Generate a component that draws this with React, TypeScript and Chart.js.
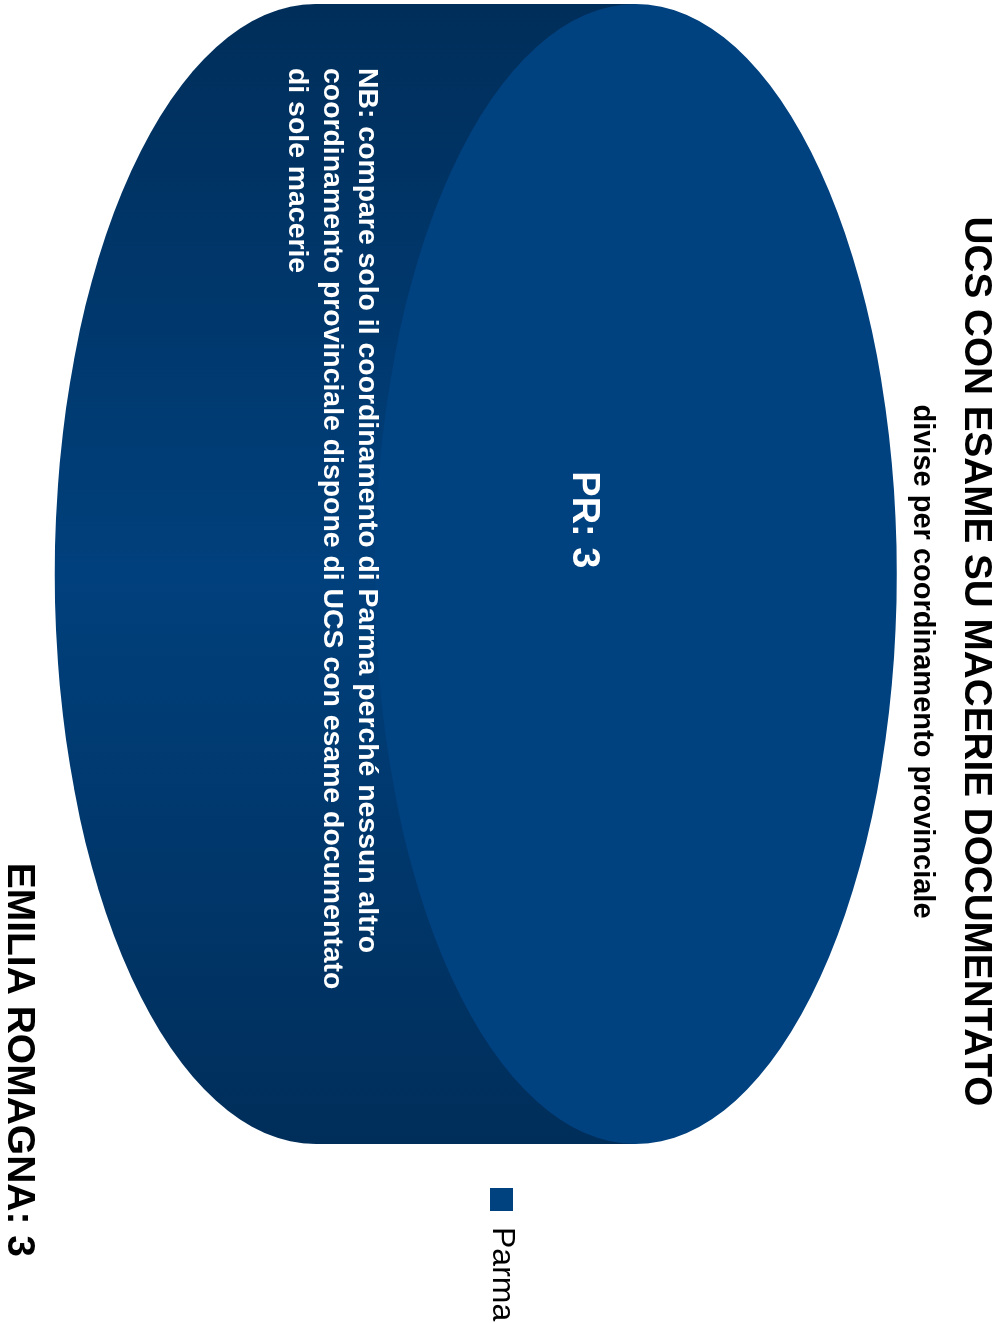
import React, { useEffect, useRef } from 'react';
import { Chart, registerables } from 'chart.js';

Chart.register(...registerables);

// ---- data ----
const categories = ['Parma'];
const abbreviations = ['PR'];
const values = [3];
const regionName = 'EMILIA ROMAGNA';
const titleText = 'UCS CON ESAME SU MACERIE DOCUMENTATO';
const subtitleText = 'divise per coordinamento provinciale';
const noteLines = [
  'NB: compare solo il coordinamento di Parma perché nessun altro',
  'coordinamento provinciale dispone di UCS con esame documentato',
  'di sole macerie',
];
const sliceColors = ['#00417F'];

// ---- layout (unrotated chart) ----
const W = 1323;
const H = 1003;
const FONT = '"Liberation Sans", Arial, Helvetica, sans-serif';

const pie3d = {
  id: 'pie3d',
  beforeDatasetsDraw(chart: any, _args: any, opts: any) {
    const arc = chart.getDatasetMeta(0).data[0];
    if (!arc) return;
    const { x, y, outerRadius } = arc.getProps(['x', 'y', 'outerRadius'], true);
    const ctx = chart.ctx as CanvasRenderingContext2D;
    const { rx, ry, depth } = opts;
    const cx = x;
    const cy = chart.chartArea.top + ry;
    chart.$pie3d = { cx, cy, rx, ry };
    // side wall
    ctx.save();
    const g = ctx.createLinearGradient(cx - rx, 0, cx + rx, 0);
    g.addColorStop(0, '#002E5A');
    g.addColorStop(0.5, '#00407C');
    g.addColorStop(1, '#002E5A');
    ctx.fillStyle = g;
    ctx.beginPath();
    ctx.moveTo(cx - rx, cy);
    ctx.lineTo(cx - rx, cy + depth);
    ctx.ellipse(cx, cy + depth, rx, ry, 0, Math.PI, 0, true);
    ctx.lineTo(cx + rx, cy);
    ctx.closePath();
    ctx.fill();
    ctx.restore();
    // projection of the top face
    ctx.save();
    ctx.translate(cx, cy);
    ctx.scale(rx / outerRadius, ry / outerRadius);
    ctx.translate(-x, -y);
  },
  afterDatasetsDraw(chart: any) {
    const ctx = chart.ctx as CanvasRenderingContext2D;
    ctx.restore();
    const p = chart.$pie3d;
    if (!p) return;
    ctx.save();
    ctx.fillStyle = '#FFFFFF';
    ctx.font = `bold 38px ${FONT}`;
    ctx.textAlign = 'center';
    ctx.textBaseline = 'middle';
    ctx.fillText(`${abbreviations[0]}: ${values[0]}`, p.cx - 0.095 * p.rx, p.cy + 0.2 * p.ry);
    ctx.font = `bold 28.4px ${FONT}`;
    ctx.textAlign = 'left';
    ctx.textBaseline = 'alphabetic';
    noteLines.forEach((line, i) => ctx.fillText(line, 68, 644 + i * 35));
    ctx.fillStyle = '#000000';
    ctx.font = `bold 39px ${FONT}`;
    ctx.textAlign = 'right';
    const total = values.reduce((a, b) => a + b, 0);
    ctx.fillText(`${regionName}: ${total}`, 1257, 995);
    ctx.restore();
  },
};

export default function App() {
  const ref = useRef<HTMLCanvasElement>(null);
  useEffect(() => {
    if (!ref.current) return;
    const chart = new Chart(ref.current, {
      type: 'pie',
      data: {
        labels: categories,
        datasets: [
          {
            data: values,
            backgroundColor: sliceColors,
            borderWidth: 0,
            clip: false,
          } as any,
        ],
      },
      options: {
        responsive: false,
        animation: false,
        devicePixelRatio: 1,
        events: [],
        layout: { padding: { left: 0, right: 0, top: 0, bottom: 0 } },
        plugins: {
          title: {
            display: true,
            text: titleText,
            color: '#000000',
            font: { family: FONT, size: 38.7, weight: 'bold' },
            padding: { top: 4, bottom: 0 },
          },
          subtitle: {
            display: true,
            text: subtitleText,
            color: '#000000',
            font: { family: FONT, size: 29, weight: 'bold' },
            padding: { top: 13, bottom: 8 },
          },
          legend: {
            display: true,
            position: 'right',
            maxWidth: 175,
            labels: {
              color: '#000000',
              font: { family: FONT, size: 32 },
              boxWidth: 23,
              boxHeight: 23,
              padding: 40,
            },
          },
          tooltip: { enabled: false },
          pie3d: { rx: 570, ry: 261, depth: 320 },
        } as any,
      },
      plugins: [pie3d],
    });
    return () => chart.destroy();
  }, []);
  return (
    <div style={{ position: 'fixed', left: 0, top: 0, width: 1003, height: 1323, overflow: 'hidden', background: '#fff' }}>
      <div
        style={{
          position: 'absolute',
          left: 0,
          top: 0,
          width: W,
          height: H,
          transformOrigin: '0 0',
          transform: 'translate(1003px, 0px) rotate(90deg)',
        }}
      >
        <canvas ref={ref} width={W} height={H} style={{ width: W, height: H, display: 'block' }} />
      </div>
    </div>
  );
}
